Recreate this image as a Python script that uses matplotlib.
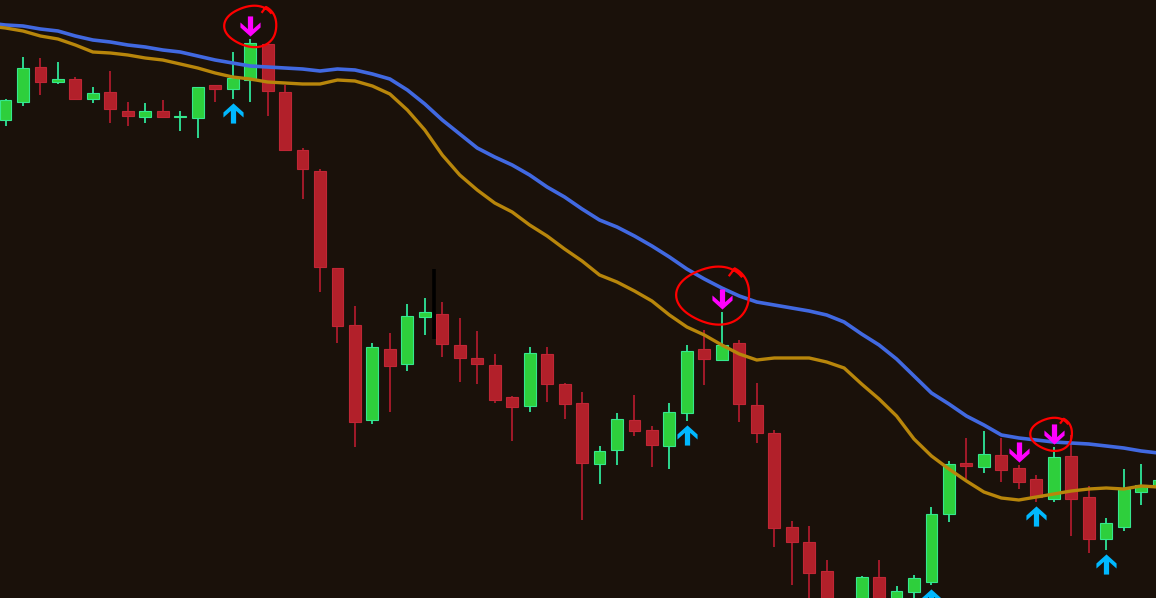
import numpy as np
import matplotlib
matplotlib.use("Agg")
import matplotlib.pyplot as plt
from matplotlib.path import Path


# candle data (one entry per bar, price units)

opens = [480, 498, 533, 518, 521, 501, 508, 489, 483, 489,
         483, 482, 515, 511, 520, 556, 508, 450, 429, 332,
         275, 180, 251, 236, 283, 286, 255, 242, 235, 203,
         194, 246, 216, 197, 136, 150, 180, 170, 154, 187,
         251, 240, 257, 195, 167, 73, 58, 29, -22, -10,
         23, -6, 8, 18, 86, 137, 133, 145, 132, 121,
         101, 144, 103, 61, 73, 108, 113]

highs = [501, 543, 542, 538, 523, 513, 529, 498, 497, 500,
         489, 513, 515, 548, 561, 556, 515, 452, 431, 332,
         294, 257, 267, 296, 302, 298, 282, 269, 246, 204,
         253, 253, 217, 208, 154, 187, 205, 174, 197, 255,
         270, 288, 260, 217, 170, 79, 74, 40, -1, 24,
         40, 14, 25, 93, 139, 162, 169, 162, 135, 125,
         153, 165, 114, 82, 131, 136, 124]

lows = [474, 494, 505, 516, 500, 497, 477, 474, 477, 482,
        469, 462, 498, 501, 498, 484, 449, 401, 308, 257,
        153, 176, 188, 229, 265, 243, 218, 216, 197, 159,
        188, 198, 181, 80, 116, 135, 164, 133, 131, 179,
        215, 239, 178, 157, 53, 15, -10, -25, -28, -15,
        -20, -12, 0, 15, 78, 121, 127, 118, 111, 98,
        98, 64, 47, 50, 69, 95, 108]

closes = [500, 532, 518, 521, 501, 507, 491, 484, 489, 483,
          484, 513, 511, 522, 557, 509, 450, 431, 333, 274,
          178, 253, 234, 284, 288, 256, 242, 236, 200, 193,
          247, 216, 196, 137, 149, 181, 169, 155, 188, 249,
          241, 255, 196, 167, 72, 58, 27, -12, -6, 23,
          -10, 9, 22, 86, 136, 134, 146, 130, 118, 103,
          143, 101, 61, 77, 111, 115, 120]

# moving averages, first value belongs to the bar before the first candle
ma_start = -1

ma_slow = [577, 575, 574, 571, 569, 564, 560, 558, 555, 553,
           550, 548, 544, 540, 537, 534, 533, 532, 531, 529,
           531, 530, 526, 521, 510, 496, 480, 466, 452, 443,
           435, 425, 413, 403, 391, 380, 373, 364, 354, 343,
           331, 321, 312, 304, 298, 295, 292, 289, 285, 278,
           266, 255, 241, 224, 207, 196, 184, 175, 165, 162,
           160, 158, 157, 156, 154, 152, 149, 147]

ma_fast = [574, 572, 569, 564, 561, 555, 548, 547, 545, 542,
           540, 536, 532, 527, 523, 521, 518, 517, 516, 516,
           520, 519, 514, 506, 490, 470, 445, 425, 410, 397,
           388, 375, 364, 351, 339, 325, 318, 309, 299, 285,
           273, 265, 255, 246, 240, 242, 242, 242, 238, 232,
           216, 201, 184, 161, 144, 131, 119, 108, 102, 100,
           103, 106, 109, 111, 112, 111, 114, 113]

# signal arrows
sell_idx = [14, 41, 58, 60]
buy_idx = [13, 39, 53, 59, 63]

# hand drawn circles around some sell arrows: (bar, rx px, ry px, dx px, dy px down)
circled = [(14, 25, 20, 1, 0.5), (41, 35, 28, -8, -3.5), (60, 20, 16, -2, 0.5)]

# stray cursor mark
cursor_x = 24.53
cursor_lo = 261
cursor_hi = 331


bg = "#1a110a"
green = "#2ecf3c"
green_edge = "#35e88e"
green_wick = "#2ee69a"
red = "#b2202a"
red_edge = "#c02635"
red_wick = "#ad1a2c"


W, H = 1156, 598
xlim = (-0.315, 65.85)
ylim = (2, 600)

fig = plt.figure(figsize=(W / 100, H / 100), dpi=100)
fig.patch.set_facecolor(bg)
ax = fig.add_axes([0, 0, 1, 1])
ax.set_facecolor(bg)

o = np.array(opens, dtype=float)
hi = np.array(highs, dtype=float)
lo = np.array(lows, dtype=float)
c = np.array(closes, dtype=float)
x = np.arange(len(o))

up = c >= o
body_lo = np.minimum(o, c)
body_h = np.maximum(np.abs(c - o), 0.8)

# wicks behind bodies
ax.vlines(x[up], lo[up], hi[up], color=green_wick, linewidth=1.3, zorder=2)
ax.vlines(x[~up], lo[~up], hi[~up], color=red_wick, linewidth=1.3, zorder=2)

ax.bar(x[up], body_h[up], bottom=body_lo[up], width=0.68,
       color=green, edgecolor=green_edge, linewidth=0.8, zorder=3)
ax.bar(x[~up], body_h[~up], bottom=body_lo[~up], width=0.68,
       color=red, edgecolor=red_edge, linewidth=0.8, zorder=3)

ma_x = np.arange(ma_start, ma_start + len(ma_slow))
ax.plot(ma_x, ma_slow, color="#4169e1", linewidth=2.6, zorder=4,
        solid_capstyle="butt")
ax.plot(ma_x, ma_fast, color="#b8860b", linewidth=2.4, zorder=4,
        solid_capstyle="butt")

ax.vlines(cursor_x, cursor_lo, cursor_hi, color="black", linewidth=2.6, zorder=5)


# arrow markers (bold shaft + chevron head)
down_verts = [(0, -0.5), (0.5, -0.05), (0.5, 0.2), (0.13, -0.13),
              (0.13, 0.5), (-0.13, 0.5), (-0.13, -0.13), (-0.5, 0.2),
              (-0.5, -0.05), (0, -0.5)]
up_verts = [(vx, -vy) for vx, vy in down_verts]
down_arrow = Path(down_verts, closed=True)
up_arrow = Path(up_verts, closed=True)

gap = 13.5

ax.plot(x[sell_idx], hi[sell_idx] + gap, linestyle="none",
        marker=down_arrow, markersize=14.5, color="#ff00ff",
        markeredgewidth=0, zorder=6)
ax.plot(x[buy_idx], lo[buy_idx] - gap, linestyle="none",
        marker=up_arrow, markersize=14.5, color="#00b8ff",
        markeredgewidth=0, zorder=6)


# red hand drawn loops
px_x = W / (xlim[1] - xlim[0])
px_y = H / (ylim[1] - ylim[0])

for idx, rx, ry, dx, dy in circled:
    cx = x[idx] + dx / px_x
    cy = hi[idx] + gap - dy / px_y
    t = np.linspace(0, 2.1 * np.pi, 160)
    ang = np.deg2rad(40) + t
    wob = 1 + 0.05 * np.sin(3 * t + 0.6)
    grow = 1 + 0.07 * t / t[-1]
    lx = cx + (rx / px_x) * wob * grow * np.cos(ang)
    ly = cy + (ry / px_y) * wob * grow * np.sin(ang)
    # small hook at the end of the stroke
    lx = np.append(lx, lx[-1] - 0.15 * rx / px_x)
    ly = np.append(ly, ly[-1] - 0.25 * ry / px_y)
    ax.plot(lx, ly, color="#ff0000", linewidth=1.6, zorder=7)


ax.set_xlim(*xlim)
ax.set_ylim(*ylim)
ax.axis("off")

fig.savefig("out.png", dpi=100, facecolor=bg)
